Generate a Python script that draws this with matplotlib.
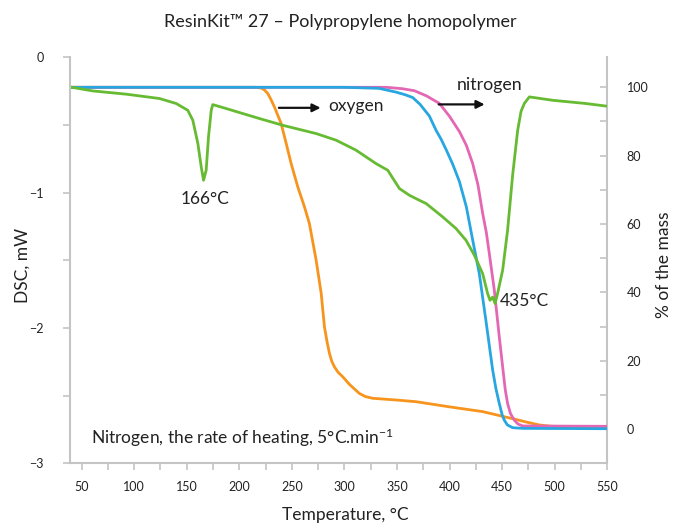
import matplotlib
matplotlib.use("Agg")
import matplotlib.pyplot as plt
from matplotlib.ticker import MultipleLocator

plt.rcParams['font.family'] = ['Lato', 'DejaVu Sans']
plt.rcParams['mathtext.default'] = 'regular'

# DSC curve (left axis, mW)
dsc_T = [39, 60.7, 92.5, 124.1, 140.0, 151.0, 155.8, 160.6, 163.8, 166.0, 168.5, 170.7, 173.3,
         174.8, 187.5, 203.3, 219.2, 241.4, 273.1, 292.1, 311.1, 330.1, 341.2, 352.3, 361.8,
         371.3, 377.7, 393.5, 406.2, 415.7, 423.6, 431.5, 436.2, 438.5, 441.0, 443.3, 445.7,
         450.5, 455.2, 460.0, 464.8, 468.0, 471.1, 475.9, 498.0, 529.7, 550]
dsc_mW = [-0.22, -0.249, -0.273, -0.305, -0.342, -0.392, -0.466, -0.638, -0.811, -0.909, -0.835,
          -0.589, -0.392, -0.350, -0.379, -0.416, -0.453, -0.503, -0.564, -0.613, -0.687, -0.786,
          -0.835, -0.970, -1.020, -1.057, -1.081, -1.180, -1.266, -1.353, -1.463, -1.599, -1.746,
          -1.796, -1.772, -1.820, -1.746, -1.574, -1.279, -0.872, -0.540, -0.400, -0.342, -0.293,
          -0.318, -0.342, -0.362]

# TGA in oxygen (right axis, % of mass)
oxy_T = [39, 215, 220.8, 224.0, 227.1, 230.0, 233.5, 239.8, 244.6, 249.3, 255.6, 262.0, 266.7,
         273.1, 277.9, 281.0, 283.5, 285.8, 288.0, 290.5, 294.0, 298.4, 305.0, 314.3, 320.0,
         326.9, 349.2, 368.2, 399.8, 431.5, 463.2, 475.0, 485.4, 495.0, 504.4, 550]
oxy_pct = [100, 100, 99.8, 99.2, 98.2, 96.5, 94.2, 89.4, 83.6, 77.7, 70.9, 65.0, 60.1,
           49.4, 39.7, 29.9, 25.5, 22.1, 19.8, 18.2, 16.6, 15.3, 13.0, 10.4, 9.5,
           9.0, 8.5, 8.0, 6.5, 5.1, 2.8, 1.9, 1.2, 0.85, 0.7, 0.7]

# TGA in nitrogen (blue)
nb_T = [39, 300, 333, 349, 358, 365, 372, 380.8, 387.2, 392, 397, 403, 409.3, 416, 422, 428.3,
        434.7, 441, 444, 447.3, 450, 452.1, 455, 460, 470, 550]
nb_pct = [100, 100, 99.7, 98.6, 97.8, 97.0, 95.0, 91.6, 87.4, 84.8, 81.6, 77.5, 72.5, 65.0, 55.3,
          45.5, 31.5, 17.3, 12.0, 7.5, 4.2, 2.6, 1.2, 0.4, 0.2, 0.1]

# TGA in nitrogen (pink)
np_T = [39, 340, 355, 366.6, 378, 390.3, 400, 409.5, 416, 422, 427, 431.5, 435, 437.8, 442.6,
        447.3, 450.4, 453, 455.2, 458, 461.6, 465, 469.5, 550]
np_pct = [100, 100, 99.6, 99.0, 97.5, 95.3, 91.5, 87.0, 83.0, 77.7, 71.5, 63.1, 57.5, 51.4, 40.6,
          27.0, 18.5, 11.5, 7.5, 4.5, 2.6, 1.5, 0.9, 0.8]

GREEN = '#66bb33'
ORANGE = '#f7941d'
BLUE = '#27a6e1'
PINK = '#e467b3'
SPINE = '#c4c4c4'
TXT = '#222222'

fig = plt.figure(figsize=(6.8, 5.3), dpi=100)
ax = fig.add_axes([0.103, 0.126, 0.790, 0.766])
ax2 = ax.twinx()

ax.set_xlim(39, 550)
ax.set_ylim(-3, 0)
ax2.set_ylim(-10, 108.8)

ax2.plot(oxy_T, oxy_pct, color=ORANGE, lw=2.0, zorder=2, solid_joinstyle='round')
ax2.plot(np_T, np_pct, color=PINK, lw=2.0, zorder=3, solid_joinstyle='round')
ax2.plot(nb_T, nb_pct, color=BLUE, lw=2.0, zorder=4, solid_joinstyle='round')
# DSC drawn through the left axis scale
ax.plot(dsc_T, dsc_mW, color=GREEN, lw=2.0, solid_joinstyle='round')
ax.set_zorder(ax2.get_zorder() + 1)
ax.patch.set_visible(False)

for a in (ax, ax2):
    a.spines['top'].set_visible(False)
    for s in ('left', 'right', 'bottom'):
        a.spines[s].set_color(SPINE)
        a.spines[s].set_linewidth(1.5)
    a.tick_params(which='both', color=SPINE, width=1.2, length=5, labelsize=9, labelcolor=TXT)
ax.spines['right'].set_visible(False)
ax2.spines['left'].set_visible(False)
ax2.spines['bottom'].set_visible(False)

ax.set_xticks(range(50, 551, 50))
ax.xaxis.set_minor_locator(MultipleLocator(25))
ax.yaxis.set_major_locator(MultipleLocator(1))
ax.yaxis.set_minor_locator(MultipleLocator(0.5))
ax.tick_params(axis='y', pad=14)
ax.tick_params(axis='x', pad=8)
ax2.set_yticks(range(0, 101, 20))
ax2.yaxis.set_minor_locator(MultipleLocator(10))
ax2.tick_params(axis='y', which='both', direction='in', pad=14)

fig.text(0.5, 0.958, 'ResinKit™ 27 – Polypropylene homopolymer', ha='center', va='center',
         fontsize=13, color=TXT)
fig.text(0.508, 0.028, 'Temperature, °C', ha='center', va='center', fontsize=12.5, color=TXT)
fig.text(0.033, 0.50, 'DSC, mW', ha='center', va='center', rotation=90, fontsize=12.5, color=TXT)
fig.text(0.977, 0.50, '% of the mass', ha='center', va='center', rotation=90, fontsize=12.5, color=TXT)

ax.text(167, -1.05, '166°C', ha='center', va='center', fontsize=12.5, color=TXT)
ax.text(447.5, -1.80, '435°C', ha='left', va='center', fontsize=12.5, color=TXT)
ax.text(58.6, -2.81, 'Nitrogen, the rate of heating, 5°C.min$^{-1}$', ha='left', va='center',
        fontsize=12.5, color=TXT)
ax2.text(285, 94.5, 'oxygen', ha='left', va='center', fontsize=12.5, color=TXT, zorder=6)
ax2.text(407, 100.8, 'nitrogen', ha='left', va='center', fontsize=12.8, color=TXT, zorder=6)
ax2.annotate('', xy=(280, 94), xytext=(235, 94),
             arrowprops=dict(arrowstyle='-|>', color='#111111', lw=1.6, mutation_scale=12),
             zorder=6)
ax2.annotate('', xy=(436, 95), xytext=(387, 95),
             arrowprops=dict(arrowstyle='-|>', color='#111111', lw=1.6, mutation_scale=12),
             zorder=6)

fig.savefig('out.png', dpi=100, facecolor='white')
